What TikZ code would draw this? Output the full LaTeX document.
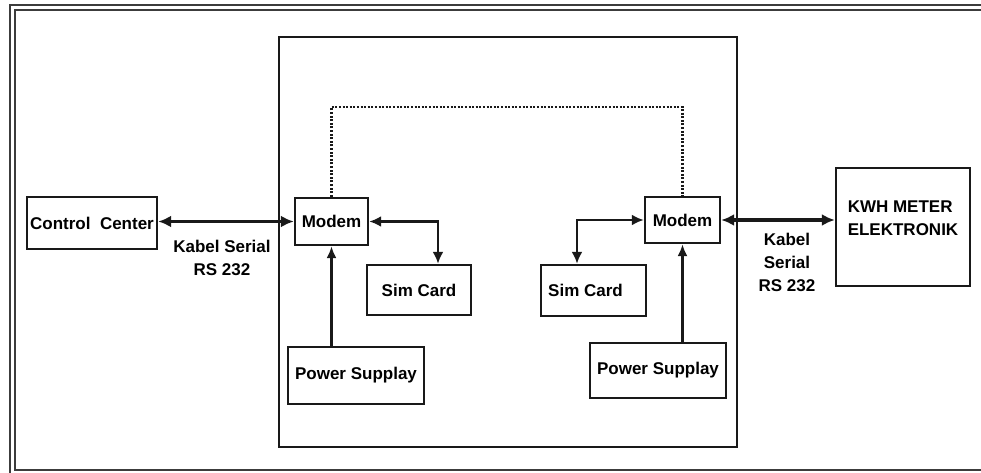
\documentclass[tikz,border=0pt]{standalone}
\usepackage{fontspec}
\setmainfont{Liberation Sans}
\usetikzlibrary{arrows.meta,positioning}
\definecolor{ink}{RGB}{25,25,25}
\definecolor{rim}{RGB}{60,60,60}

\begin{document}
\begin{tikzpicture}[x=1pt,y=-1pt,
    box/.style={draw=ink,line width=2.4pt,align=left,inner sep=0pt,
      font=\fontsize{17}{23}\selectfont\bfseries},
    serial/.style={draw=ink,line width=3.6pt,{Latex[length=13pt,width=12pt]}-{Latex[length=13pt,width=12pt]}},
    simlink/.style={draw=ink,line width=2.6pt,{Latex[length=12pt,width=11pt]}-{Latex[length=12pt,width=11pt]}},
    power/.style={draw=ink,line width=2.2pt,-{Latex[length=12pt,width=10pt]}},
    linkline/.style={draw=ink,line width=2.4pt,dash pattern=on 2pt off 1.6pt},
    cable/.style={align=center,font=\fontsize{17}{23}\selectfont\bfseries}]
  \path[use as bounding box,clip] (0,0) rectangle (981,473);
  % double frame round the page
  \draw[rim,line width=1.4pt] (10,5) rectangle (1010,480);
  \draw[rim,line width=1.4pt] (15,10) rectangle (1005,470);
  % the box that holds both modems
  \node[draw=ink,line width=2.4pt,minimum width=458pt,minimum height=410pt] (site) at (508,242) {};
  \foreach \n/\x/\y/\w/\h/\t in {
    cc/92/223/130/52/Control\ \ Center,
    modemL/331.5/221.5/73/47/Modem,
    simL/419/290/104/50/Sim Card,
    psL/356/375.5/136/57/Power Supplay,
    modemR/682.5/220/75/46/Modem,
    simR/593.5/290.5/105/51/Sim Card\hspace{16pt},
    psR/658/370.5/136/55/Power Supplay,
    kwh/903/227/134/118/{KWH METER\\ELEKTRONIK\\[-6pt]~}}
  {
    \node[box,minimum width=\w pt,minimum height=\h pt] (\n) at (\x,\y) {\t};
  }
  \coordinate (link) at (508,107);
  \draw[linkline] (modemL.north) |- (link) -| (modemR.north);
  \draw[serial] (modemL.west -| cc.east) -- (modemL.west);
  \draw[serial] (modemR.east) -- (modemR.east -| kwh.west);
  \draw[simlink] (modemL.east) -| ([xshift=19pt]simL.north);
  \draw[simlink] (modemR.west) -| ([xshift=-16.5pt]simR.north);
  \draw[power] (modemL.south |- psL.north) -- (modemL.south);
  \draw[power] (modemR.south |- psR.north) -- (modemR.south);
  \node[cable] (cableL) at (222,258) {Kabel Serial\\RS 232};
  \node[cable] (cableR) at (787,262) {Kabel\\Serial\\RS 232};
\end{tikzpicture}
\end{document}
